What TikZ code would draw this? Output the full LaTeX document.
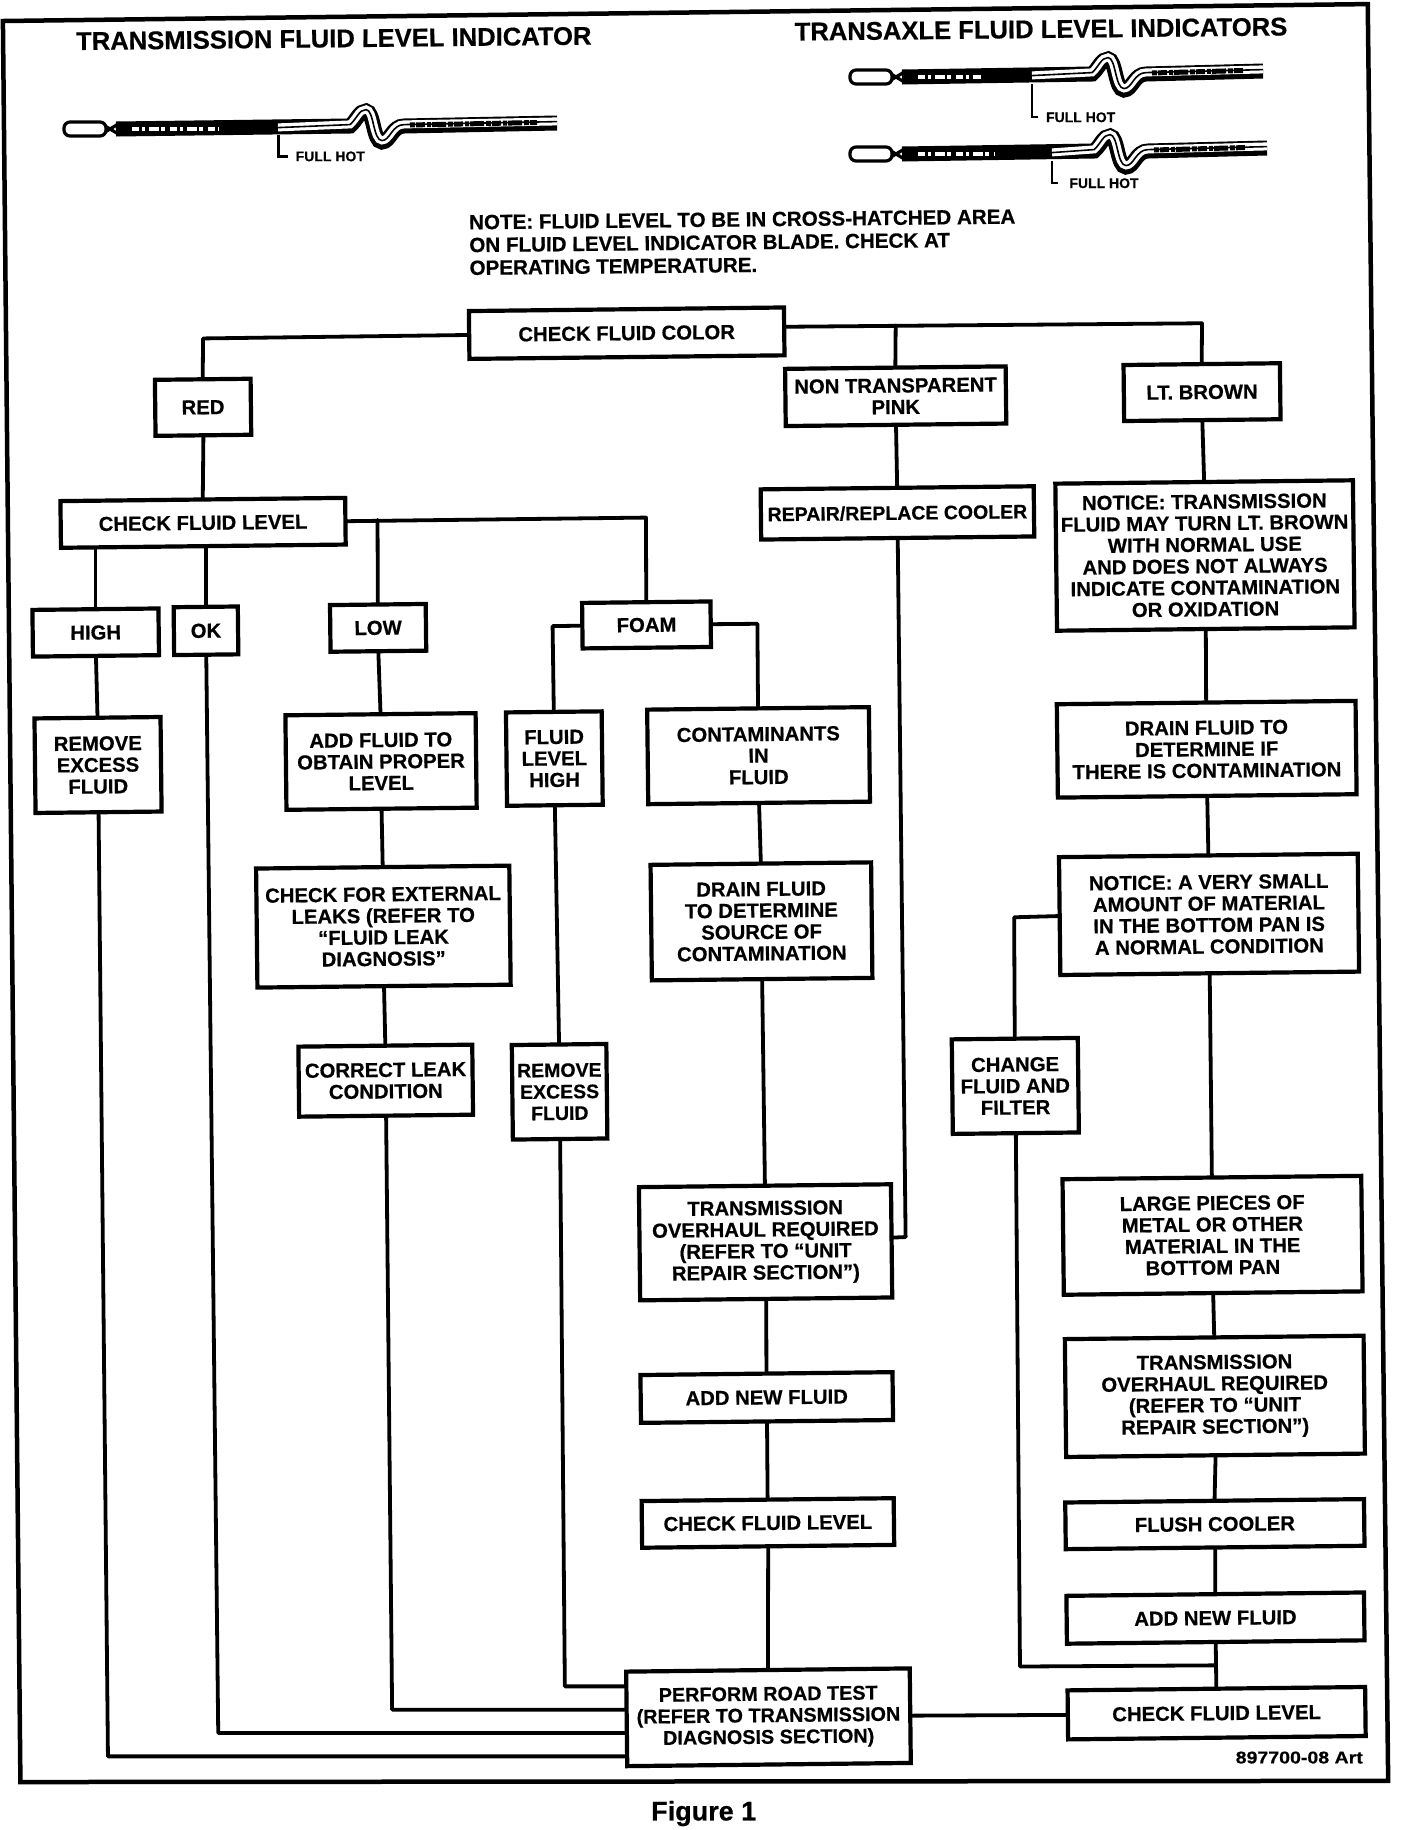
\documentclass[tikz,border=0pt]{standalone}
\usepackage{fontspec}
\setmainfont{Liberation Sans}[BoldFont={Liberation Sans Bold},BoldFeatures={FakeBold=0.5}]
\usetikzlibrary{calc}
\newcommand\dipstick[5]{%
\begin{scope}[x=1pt,y=-1pt]
 \def\bladepath##1{(##1,{#2}) -- (#4,{#2-3}) .. controls ({#4+7},{#2-9}) and ({#4+9},{#2-18}) .. ({#4+16},{#2-18}) .. controls ({#4+24},{#2-18}) and ({#4+23},{#2+13}) .. ({#4+32},{#2+13}) .. controls ({#4+40},{#2+13}) and ({#4+42},{#2-3}) .. ({#4+54},{#2-3}) -- ({#5},{#2-6})}
 \draw[line width=15pt] \bladepath{{#1+52}};
 \draw[white,line width=8pt,yshift=1.6pt] \bladepath{{#3}};
 \draw[line width=1.6pt,yshift=1.4pt] \bladepath{{#3}};
 \draw[line width=5pt,yshift=1pt,dash pattern=on 5pt off 1pt on 9pt off 2pt on 4pt off 1pt on 14pt off 2pt] ({#4+60},{#2-3}) -- ({#5-20},{#2-5.5});
 \draw[white,line width=4pt,dash pattern=on 7pt off 3pt on 3pt off 4pt on 10pt off 2pt on 4pt off 5pt] ({#1+68},{#2}) -- ({#1+0.72*(#3-#1)},{#2});
 \draw[line width=3.2pt] ({#1+36},{#2-6}) -- ({#1+56},{#2+6}) ({#1+36},{#2+6}) -- ({#1+56},{#2-6});
 \draw[line width=3.2pt,fill=white,rounded corners=6pt] ({#1},{#2-7}) rectangle ({#1+42},{#2+7});
\end{scope}}
\tikzset{
 fnt/.style={font=\bfseries\fontsize{20.3}{21.5}\selectfont},
 box/.style n args={4}{draw,line width=4.2pt,fill=white,inner sep=0pt,align=center,rotate=0.65,fnt,
   minimum width={(#3-#1)*1.167pt},minimum height={(#4-#2)*1.167pt},at={({(#1+#3)/2},{(#2+#4)/2})}},
 lnk/.style={line width=3.8pt,line cap=round,line join=round},
 title/.style={font=\bfseries\fontsize{25.6}{28}\selectfont,rotate=0.6,inner sep=0pt},
 tag/.style={font=\bfseries\fontsize{14}{16}\selectfont,inner sep=0pt},
 lead/.style={line width=2.4pt}
}
\begin{document}
\begin{tikzpicture}[x=1.167pt,y=-1.167pt]
\useasboundingbox[fill=white] (0,0) rectangle (1206.5,1568.1);
% frame
\coordinate (f1) at (2.5,18);
\coordinate (f2) at (1172,3.5);
\coordinate (f3) at (1189.5,1526);
\coordinate (f4) at (17.5,1527);
\draw[line width=4.5pt,line join=miter] (f1) -- (f2) -- (f3) -- (f4) -- cycle;
% titles
\node[title] (t1) at (286,33) {TRANSMISSION FLUID LEVEL INDICATOR};
\node[title] (t2) at (892,25) {TRANSAXLE FLUID LEVEL INDICATORS};
% fluid level indicators
\dipstick{64}{129}{278}{350}{557}
\dipstick{850}{77}{1032}{1092}{1263}
\dipstick{850}{154}{1052}{1094}{1267}
\node[tag] (h1) at (283,134) {FULL HOT};
\node[tag] (h2) at (926,100.5) {FULL HOT};
\node[tag] (h3) at (946,157) {FULL HOT};
\coordinate (l1) at (238.5,116);
\coordinate (l2) at (884.5,72);
\coordinate (l3) at (901.5,138);
\draw[lead] (l1) |- ($(h1.west)+(-6,0)$);
\draw[lead] (l2) |- ($(h2.west)+(-7,0)$);
\draw[lead] (l3) |- ($(h3.west)+(-10,0)$);
% note
\node[font=\bfseries\fontsize{20.6}{22.8}\selectfont,align=left,anchor=west,inner sep=0pt,rotate=0.6] (note) at (402,210)
 {NOTE: FLUID LEVEL TO BE IN CROSS-HATCHED AREA\\ON FLUID LEVEL INDICATOR BLADE. CHECK AT\\OPERATING TEMPERATURE.};
% boxes
\node[box={402}{265}{672}{306}] (color) {CHECK FLUID COLOR};
\node[box={133}{325}{215}{373}] (red) {RED};
\node[box={673}{315}{862}{364}] (pink) {NON TRANSPARENT\\PINK};
\node[box={963}{312}{1097}{360}] (brown) {LT. BROWN};
\node[box={52}{428}{296}{468}] (levelL) {CHECK FLUID LEVEL};
\node[box={652}{418}{886}{461},font=\bfseries\fontsize{19.5}{21.5}\selectfont] (cooler) {REPAIR/REPLACE COOLER};
\node[box={905}{413}{1160}{539}] (notice) {NOTICE: TRANSMISSION\\FLUID MAY TURN LT. BROWN\\WITH NORMAL USE\\AND DOES NOT ALWAYS\\INDICATE CONTAMINATION\\OR OXIDATION};
\node[box={28}{522}{136}{562}] (high) {HIGH};
\node[box={149}{520}{204}{561}] (ok) {OK};
\node[box={283}{518}{365}{558}] (low) {LOW};
\node[box={499}{516}{609}{555}] (foam) {FOAM};
\node[box={30}{615}{138}{696}] (removeA) {REMOVE\\EXCESS\\FLUID};
\node[box={245}{612}{408}{693}] (add) {ADD FLUID TO\\OBTAIN PROPER\\LEVEL};
\node[box={434}{610}{516}{690}] (flhigh) {FLUID\\LEVEL\\HIGH};
\node[box={555}{607}{745}{688}] (contam) {CONTAMINANTS\\IN\\FLUID};
\node[box={906}{602}{1162}{682}] (drainR) {DRAIN FLUID TO\\DETERMINE IF\\THERE IS CONTAMINATION};
\node[box={220}{743}{437}{845}] (leaks) {CHECK FOR EXTERNAL\\LEAKS (REFER TO\\“FLUID LEAK\\DIAGNOSIS”};
\node[box={558}{740}{747}{839}] (drainM) {DRAIN FLUID\\TO DETERMINE\\SOURCE OF\\CONTAMINATION};
\node[box={908}{733}{1164}{834}] (noticeB) {NOTICE: A VERY SMALL\\AMOUNT OF MATERIAL\\IN THE BOTTOM PAN IS\\A NORMAL CONDITION};
\node[box={256}{896}{405}{956}] (correct) {CORRECT LEAK\\CONDITION};
\node[box={439}{895}{520}{976},font=\bfseries\fontsize{19.5}{21.5}\selectfont] (removeB) {REMOVE\\EXCESS\\FLUID};
\node[box={816}{890}{924}{971}] (change) {CHANGE\\FLUID AND\\FILTER};
\node[box={911}{1009}{1167}{1108}] (large) {LARGE PIECES OF\\METAL OR OTHER\\MATERIAL IN THE\\BOTTOM PAN};
\node[box={548}{1016}{764}{1113}] (overM) {TRANSMISSION\\OVERHAUL REQUIRED\\(REFER TO “UNIT\\REPAIR SECTION”)};
\node[box={913}{1146}{1169}{1247}] (overR) {TRANSMISSION\\OVERHAUL REQUIRED\\(REFER TO “UNIT\\REPAIR SECTION”)};
\node[box={549}{1177}{765}{1218}] (addM) {ADD NEW FLUID};
\node[box={550}{1285}{766}{1325}] (levelM) {CHECK FLUID LEVEL};
\node[box={913}{1286}{1169}{1326}] (flush) {FLUSH COOLER};
\node[box={914}{1366}{1169}{1407}] (addR) {ADD NEW FLUID};
\node[box={537}{1431}{780}{1512},font=\bfseries\fontsize{19.8}{21.5}\selectfont] (road) {PERFORM ROAD TEST\\(REFER TO TRANSMISSION\\DIAGNOSIS SECTION)};
\node[box={915}{1447}{1170}{1489}] (levelR) {CHECK FLUID LEVEL};
\node[font=\bfseries\fontsize{17}{19}\selectfont,anchor=east,inner sep=0pt,xscale=1.15] (art) at (1168,1506) {897700-08 Art};
\node[font=\bfseries\fontsize{27}{30}\selectfont,inner sep=0pt] (fig) at (603,1554) {Figure 1};
% connectors
\begin{scope}[lnk]
\coordinate (cRed) at (174,290);
\draw (color.west) -- (cRed) -- (red.north);
\coordinate (cE) at (672,280);
\coordinate (cBr) at (1030,277);
\coordinate (cPk) at (767.5,279);
\draw (cE) -- (cBr) -- (brown.north);
\draw (cPk) -- (pink.north);
\draw (pink.south) -- (cooler.north);
\coordinate (cCo) at (776,1060);
\coordinate (cOm) at (764,1060.5);
\draw (cooler.south) -- (cCo) -- (cOm);
\draw (red.south) -- (levelL.north);
\draw (levelL.south -| high.north) -- (high.north);
\draw (levelL.south -| ok.north) -- (ok.north);
\coordinate (cFo) at (553.5,443.5);
\coordinate (cLo) at (323.5,445.5);
\draw (levelL.east) -- (cFo) -- (foam.north);
\draw (cLo) -- (low.north);
\draw (high.south) -- (removeA.north);
\draw (low.south) -- (add.north);
\coordinate (cFh) at (473.5,536.5);
\coordinate (cCt) at (649,534.5);
\draw (foam.west) -- (cFh) -- (flhigh.north);
\draw (foam.east) -- (cCt) -- (contam.north);
\draw (flhigh.south) -- (removeB.north);
\draw (add.south) -- (leaks.north);
\draw (leaks.south) -- (correct.north);
\draw (contam.south) -- (drainM.north);
\draw (drainM.south) -- (overM.north);
\draw (overM.south) -- (addM.north);
\draw (addM.south) -- (levelM.north);
\draw (levelM.south) -- (road.north);
\draw (brown.south) -- (notice.north);
\draw (notice.south) -- (drainR.north);
\draw (drainR.south) -- (noticeB.north);
\draw (noticeB.south) -- (large.north);
\draw (large.south) -- (overR.north);
\draw (overR.south) -- (flush.north);
\draw (flush.south) -- (addR.north);
\draw (addR.south) -- (levelR.north);
\coordinate (cCh) at (869,786);
\draw (noticeB.west) -- (cCh) -- (change.north);
\coordinate (jR) at ($(addR.south)!0.5!(levelR.north)$);
\coordinate (cC) at (874,1428);
\draw (change.south) -- (cC) -- (jR);
\coordinate (cB) at (484,1445);
\coordinate (cL) at (336,1465);
\coordinate (cK) at (187,1485);
\coordinate (cR) at (92.5,1505);
\draw (removeB.south) -- (cB) -- (cB -| road.west);
\draw (correct.south) -- (cL) -- (cL -| road.west);
\draw (ok.south) -- (cK) -- (cK -| road.west);
\draw (removeA.south) -- (cR) -- (cR -| road.west);
\draw (road.east) -- (levelR.west);
\end{scope}
\end{tikzpicture}
\end{document}
